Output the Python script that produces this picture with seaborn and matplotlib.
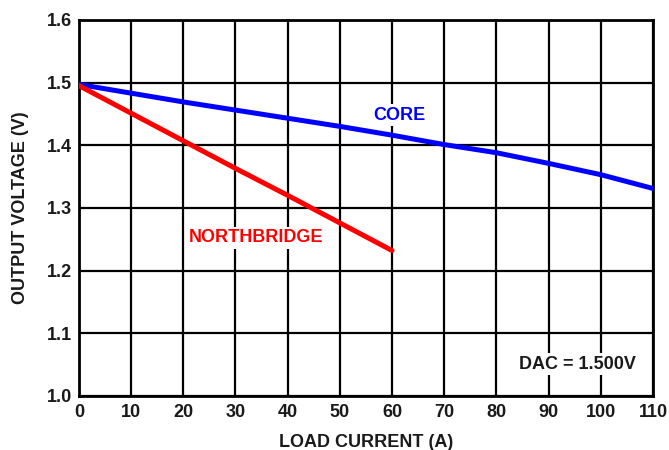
import matplotlib
matplotlib.use("Agg")
import matplotlib.pyplot as plt
import seaborn as sns
import pandas as pd

core_current = [0, 10, 20, 30, 40, 50, 60, 70, 80, 90, 100, 110]
core_voltage = [1.497, 1.483, 1.469, 1.456, 1.443, 1.430, 1.416, 1.401, 1.388, 1.371, 1.353, 1.331]
nb_current = [0, 10, 20, 30, 40, 50, 60]
nb_voltage = [1.495, 1.451, 1.407, 1.363, 1.320, 1.276, 1.232]
x_ticks = [0, 10, 20, 30, 40, 50, 60, 70, 80, 90, 100, 110]
y_ticks = [1.0, 1.1, 1.2, 1.3, 1.4, 1.5, 1.6]

sns.set_style("white")
plt.rcParams['font.family'] = ['Liberation Sans', 'DejaVu Sans']
plt.rcParams['font.weight'] = 'bold'

FS = 13
fig = plt.figure(figsize=(6.69, 4.5), dpi=100)
ax = fig.add_axes([0.118, 0.12, 0.858, 0.836])

df_core = pd.DataFrame({"x": core_current, "y": core_voltage})
df_nb = pd.DataFrame({"x": nb_current, "y": nb_voltage})
sns.lineplot(data=df_core, x="x", y="y", ax=ax, color="#0000ff", linewidth=3.6, zorder=3)
sns.lineplot(data=df_nb, x="x", y="y", ax=ax, color="#ff0000", linewidth=3.6, zorder=3)

ax.set_xlim(0, 110)
ax.set_ylim(1.0, 1.6)
ax.set_xticks(x_ticks)
ax.set_yticks(y_ticks)
ax.set_xticklabels([str(v) for v in x_ticks], fontsize=FS, fontweight='bold', color='#1a1a1a')
ax.set_yticklabels([f"{v:.1f}" for v in y_ticks], fontsize=FS, fontweight='bold', color='#1a1a1a')
ax.tick_params(axis='x', length=0, pad=6)
ax.tick_params(axis='y', length=0, pad=5)
ax.grid(True, color='black', linewidth=1.6)
ax.set_axisbelow(True)
for s in ax.spines.values():
    s.set_color('black')
    s.set_linewidth(2.0)
    s.set_visible(True)

ax.set_xlabel("LOAD CURRENT (A)", fontsize=FS, fontweight='bold', color='#1a1a1a', labelpad=9)
ax.set_ylabel("OUTPUT VOLTAGE (V)", fontsize=FS, fontweight='bold', color='#1a1a1a', labelpad=13)

ax.text(61.5, 1.448, "CORE", color="#0000ff", fontsize=FS, fontweight='bold', ha='center', va='center',
        bbox=dict(facecolor='white', edgecolor='none', pad=1.5), zorder=2)
ax.text(34, 1.252, "NORTHBRIDGE", color="#ff0000", fontsize=FS, fontweight='bold', ha='center', va='center',
        bbox=dict(facecolor='white', edgecolor='none', pad=1.5), zorder=2)
ax.text(95.5, 1.051, "DAC = 1.500V", color="#1a1a1a", fontsize=FS, fontweight='bold', ha='center', va='center',
        bbox=dict(facecolor='white', edgecolor='none', pad=1.5), zorder=2)

fig.savefig("out.png", dpi=100)
